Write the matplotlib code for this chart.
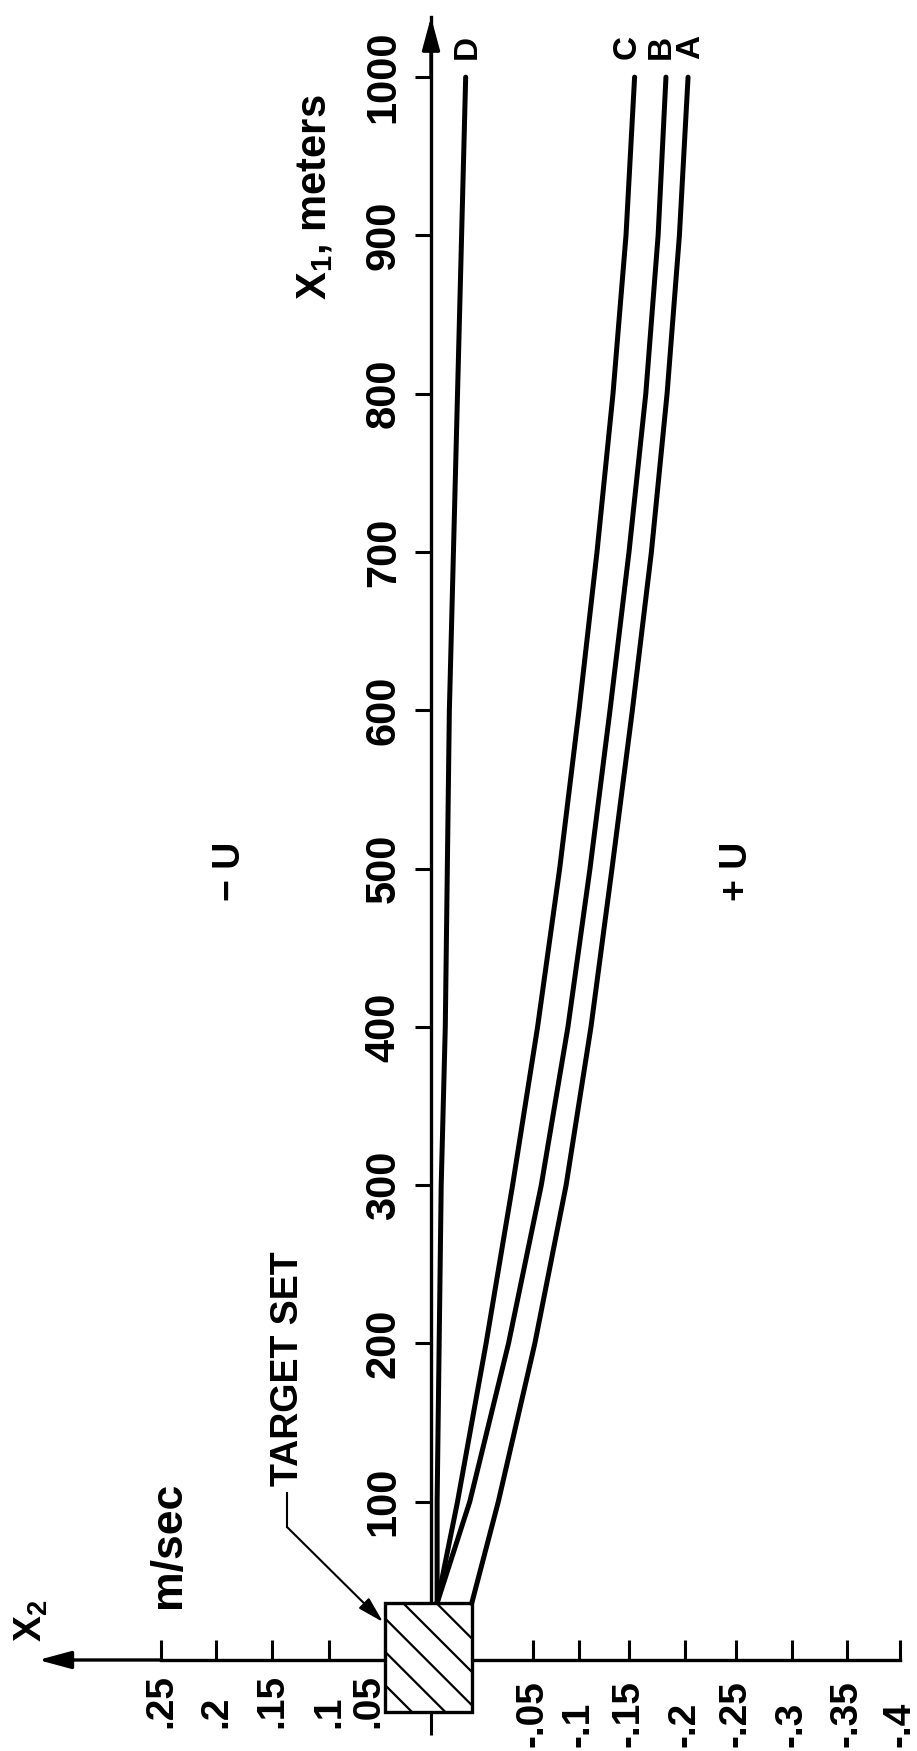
import numpy as np
import matplotlib.pyplot as plt
from matplotlib.patches import Rectangle

plt.rcParams['font.family'] = ['Liberation Sans', 'DejaVu Sans']
plt.rcParams['font.weight'] = 'bold'
plt.rcParams['mathtext.fontset'] = 'custom'
plt.rcParams['mathtext.rm'] = 'Liberation Sans:bold'
plt.rcParams['mathtext.default'] = 'rm'
plt.rcParams['hatch.linewidth'] = 0.8

# trajectories: X1 (meters) against X2 (m/sec)
x1 = [36, 100, 200, 300, 400, 500, 600, 700, 800, 900, 1000]
x2_A = [-0.020, -0.033, -0.052, -0.086, -0.112, -0.133, -0.153, -0.170, -0.184, -0.195, -0.203]
x2_B = [-0.003, -0.019, -0.038, -0.059, -0.088, -0.111, -0.131, -0.150, -0.165, -0.176, -0.183]
x2_C = [-0.003, -0.013, -0.027, -0.040, -0.055, -0.079, -0.100, -0.118, -0.134, -0.147, -0.155]
x2_D = [-0.003, -0.003, -0.004, -0.005, -0.007, -0.008, -0.009, -0.011, -0.013, -0.015, -0.017]
curve_names = ['A', 'B', 'C', 'D']
curve_label_x2 = [-0.2055, -0.179, -0.148, -0.018]

# target set
target_x2 = (0.05, -0.02)
target_x1 = (-33, 36)

x1_ticks = [100, 200, 300, 400, 500, 600, 700, 800, 900, 1000]
x2_ticks = [0.25, 0.2, 0.15, 0.1, 0.05, -0.05, -0.1, -0.15, -0.2, -0.25, -0.3, -0.35, -0.4]
x2_labels = ['.25', '.2', '.15', '.1', '.05', '-.05', '-.1', '-.15', '-.2',
             '-.25', '-.3', '-.35', '-.4']

# the hand drawn X2 ruler is not evenly spaced, so use a piecewise scale
ruler_vals = np.array([-0.4, -0.35, -0.3, -0.25, -0.2, -0.15, -0.1, -0.05, 0.0,
                       0.05, 0.1, 0.15, 0.2, 0.25])
ruler_pos = -np.array([900, 847, 792, 736, 685, 629, 579, 533, 431,
                       385, 329, 272, 216, 161], dtype=float)


def fwd(v):
    return np.interp(v, ruler_vals, ruler_pos)


def inv(p):
    return np.interp(p, ruler_pos, ruler_vals)


fig = plt.figure(figsize=(4.585, 8.755), dpi=200)
ax = fig.add_axes([161 / 917, 91 / 1751, 739 / 917, 1643 / 1751])
ax.set_xscale('function', functions=(fwd, inv))

for vals, name, lx in zip([x2_A, x2_B, x2_C, x2_D], curve_names, curve_label_x2):
    ax.plot(vals, x1, color='black', lw=1.8, solid_capstyle='round',
            solid_joinstyle='round', zorder=3, clip_on=False)
    ax.text(lx, 1019, name, rotation=90, ha='center', va='center', fontsize=12)

ax.set_xlim(0.25, -0.4)
ax.set_ylim(0, 1038)

for s in ['top', 'right']:
    ax.spines[s].set_visible(False)
ax.spines['left'].set_position(('data', 0))
ax.spines['bottom'].set_position(('data', 0))
ax.spines['left'].set_linewidth(1.2)
ax.spines['bottom'].set_linewidth(1.2)

ax.set_xticks(x2_ticks)
ax.set_xticks([0], minor=True)
ax.tick_params(axis='x', which='major', direction='in', length=7.2, width=1.1, labelbottom=False)
ax.tick_params(axis='x', which='minor', direction='out', length=27, width=1.1, labelbottom=False)
ax.set_yticks(x1_ticks, [str(v) for v in x1_ticks])
ax.tick_params(axis='y', direction='out', length=5.8, width=1.1, pad=4,
               labelsize=15, labelrotation=90)
for lab in ax.get_yticklabels():
    lab.set_va('center')

for v, s in zip(x2_ticks, x2_labels):
    y = -43 if v > 0 else -55
    dx = -6 if v == 0.05 else 0
    ax.annotate(s, xy=(v, y), xytext=(dx, 0), textcoords='offset points',
                rotation=90, ha='center', va='bottom', fontsize=14, annotation_clip=False)

# axis arrows
arrow = dict(arrowstyle='-|>,head_length=1.0,head_width=0.27', lw=1.2, color='black',
             shrinkA=0, shrinkB=0, mutation_scale=10)
ax.annotate('', xy=(0, 1038), xytext=(0, 1000), arrowprops=arrow, annotation_clip=False)
ax.annotate('', xy=(-0.166, 0), xycoords=('axes fraction', 'data'),
            xytext=(0.25, 0), textcoords='data', arrowprops=arrow, annotation_clip=False)

box = Rectangle((target_x2[0], target_x1[0]), target_x2[1] - target_x2[0],
                target_x1[1] - target_x1[0], facecolor='white', edgecolor='black',
                lw=1.2, hatch='\\\\', zorder=5, clip_on=False)
ax.add_patch(box)

ax.text(0.112, 924, 'X$_1$, meters', rotation=90, ha='center', va='center', fontsize=15)
ax.text(0.136, 184, 'TARGET SET', rotation=90, ha='center', va='center', fontsize=13.5)
ax.plot([0.1368, 0.1368], [105.5, 84], color='black', lw=0.75, clip_on=False)
ax.annotate('', xy=(0.0518, 24), xytext=(0.1368, 84),
            arrowprops=dict(arrowstyle='-|>,head_length=0.8,head_width=0.22', lw=0.75,
                            color='black', shrinkA=0, shrinkB=0, mutation_scale=10),
            annotation_clip=False)
ax.text(0.2436, 72.6, 'm/sec', rotation=90, ha='center', va='center', fontsize=16)
ax.text(-0.176, 25, 'X$_2$', transform=ax.get_yaxis_transform(), rotation=90,
        ha='center', va='center', fontsize=14)
ax.text(0.1875, 498, '\u2212 U', rotation=90, ha='center', va='center', fontsize=13.5)
ax.text(-0.2509, 498, '+ U', rotation=90, ha='center', va='center', fontsize=13.5)

fig.savefig('out.png', dpi=200, facecolor='white')
